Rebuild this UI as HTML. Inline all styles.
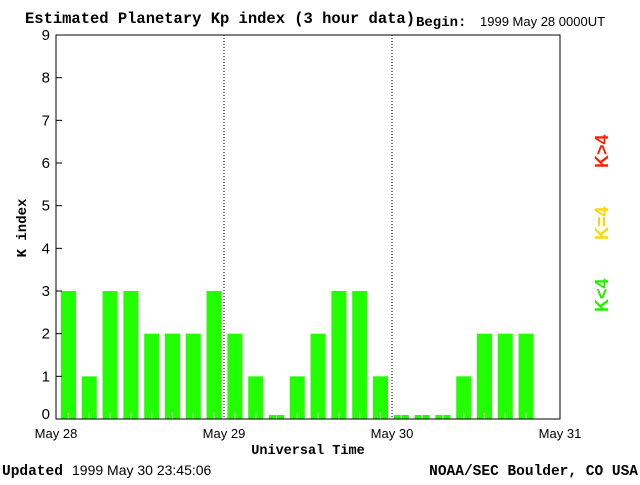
<!DOCTYPE html>
<html><head><meta charset="utf-8"><style>
body{margin:0;background:#fff;width:640px;height:480px;overflow:hidden}
svg text{font-family:"Liberation Sans",sans-serif}
.s{font-family:"Liberation Mono",monospace;font-weight:bold}
</style></head><body>
<svg id="c" width="640" height="480" xmlns="http://www.w3.org/2000/svg">
<text x="25" y="23" class="s" font-size="15.5" textLength="390">Estimated Planetary Kp index (3 hour data)</text>
<text x="416" y="26" class="s" font-size="14">Begin:</text>
<text x="480" y="26" font-size="13">1999 May 28 0000UT</text>
<text x="26" y="228" class="s" font-size="14" transform="rotate(-90 26 228)" text-anchor="middle">K index</text>
<text x="308" y="454" class="s" font-size="13.5" text-anchor="middle">Universal Time</text>
<text x="2" y="475" class="s" font-size="14.5">Updated</text>
<text x="72" y="475" font-size="14">1999 May 30 23:45:06</text>
<text x="638" y="475" class="s" font-size="14.5" text-anchor="end">NOAA/SEC Boulder, CO USA</text>
<g class="s" font-size="18">
<text transform="translate(608 312) rotate(-90)" fill="#22ee00">K&lt;4</text>
<text transform="translate(608 240) rotate(-90)" fill="#ffd700">K=4</text>
<text transform="translate(608 168) rotate(-90)" fill="#ff2200">K&gt;4</text>
</g>
<g id="plot"></g>
</svg>
<script>
const kpValues=[3,1,3,3,2,2,2,3,2,1,0,1,2,3,3,1,0,0,0,1,2,2,2];
const yTicks=[0,1,2,3,4,5,6,7,8,9];
const dayLabels=["May 28","May 29","May 30","May 31"];
const L=56,R=560,T=35,B=419,slot=(R-L)/24;
const yS=v=>B-v*(B-T)/9;
const xS=i=>L+i*slot;
const NS="http://www.w3.org/2000/svg";
const g=document.getElementById('plot');
function mk(t,a){const e=document.createElementNS(NS,t);for(const k in a)e.setAttribute(k,a[k]);g.appendChild(e);return e;}
kpValues.forEach((v,i)=>{
  const top=v===0?B-4:yS(v);
  const c=v<4?"#22ff00":(v===4?"#ffd700":"#ff2200");
  const r=mk('rect',{x:xS(i)+5-i*0.2,y:top,width:15,height:B-top,fill:c});
  
  
  const t=mk('line',{x1:xS(i)+12.5-i*0.2,x2:xS(i)+12.5-i*0.2,y1:B-6,y2:B,stroke:"#fff"});
  
  
});
const box=mk('rect',{x:L,y:T,width:R-L,height:B-T,fill:"none",stroke:"#000"});


yTicks.forEach(v=>{
  const y=yS(v);
  const l=mk('line',{x1:L,x2:L+6,y1:y,y2:y,stroke:"#000"});
  
  
  const t=mk('text',{x:L-6,y:Math.min(y+5,B),'text-anchor':'end','font-size':15});
  t.textContent=v;
  
  
});
dayLabels.forEach((d,i)=>{
  const x=L+i*8*slot;
  if(i>0&&i<3){
    const l=mk('line',{x1:x,x2:x,y1:T,y2:B,stroke:"#000","stroke-dasharray":"1,2"});
    
    
  }
  const t=mk('text',{x:x,y:438,'text-anchor':'middle','font-size':13});
  t.textContent=d;
  
  
});
</script>
</body></html>
